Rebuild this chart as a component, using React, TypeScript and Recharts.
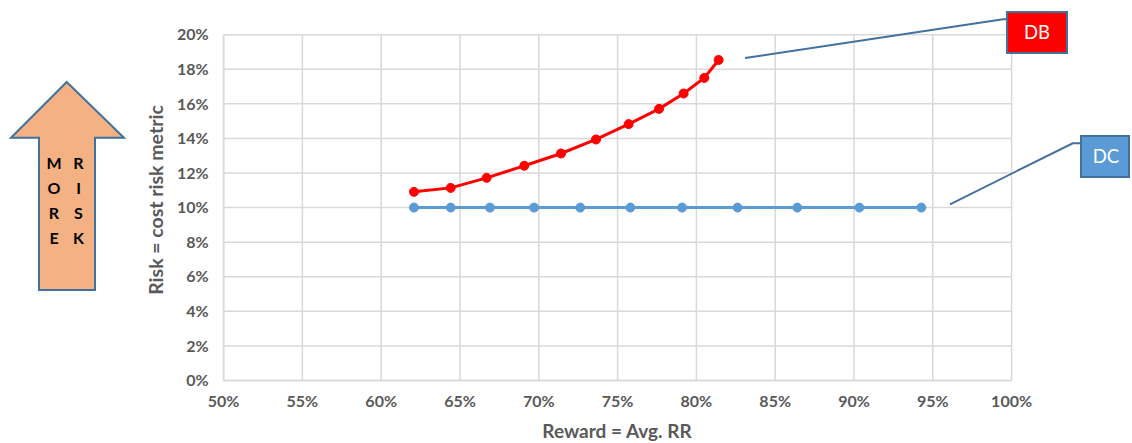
import React from "react";
import { LineChart, Line, XAxis, YAxis, CartesianGrid } from "recharts";

// Reward (avg. replacement ratio, %) and risk (cost risk metric, %) per plan design
const dbReward = [62.08, 64.41, 66.69, 69.08, 71.41, 73.63, 75.7, 77.63, 79.19, 80.5, 81.41];
const dbRisk = [10.91, 11.14, 11.72, 12.42, 13.13, 13.94, 14.83, 15.71, 16.6, 17.5, 18.54];

const dcReward = [62.08, 64.41, 66.9, 69.7, 72.63, 75.81, 79.09, 82.61, 86.4, 90.34, 94.27];
const dcRisk = [10, 10, 10, 10, 10, 10, 10, 10, 10, 10, 10];

const xTicks = [50, 55, 60, 65, 70, 75, 80, 85, 90, 95, 100];
const yTicks = [0, 2, 4, 6, 8, 10, 12, 14, 16, 18, 20];

const arrowLetters = [
  ["M", "R"],
  ["O", "I"],
  ["R", "S"],
  ["E", "K"],
];

const dbData = dbReward.map((x, i) => ({ x, y: dbRisk[i] }));
const dcData = dcReward.map((x, i) => ({ x, y: dcRisk[i] }));

const FONT = "Lato, 'Open Sans', sans-serif";
const TICK = { fill: "#595959", fontSize: 16, fontWeight: 700, fontFamily: FONT };
const GRID = "#d9d9d9";
const OUTLINE = "#41719c";

export default function App() {
  return (
    <div style={{ position: "fixed", left: 0, top: 0, width: 1132, height: 443, background: "#fff" }}>
      <LineChart
        width={1132}
        height={443}
        margin={{ top: 34.7, right: 120.4, bottom: 32.5, left: 163.6 }}
      >
        <CartesianGrid stroke={GRID} strokeWidth={1.5} />
        <XAxis
          type="number"
          dataKey="x"
          domain={[50, 100]}
          ticks={xTicks}
          tickFormatter={(v: number) => `${v}%`}
          tick={TICK}
          tickLine={false}
          tickSize={0}
          tickMargin={15}
          axisLine={{ stroke: GRID, strokeWidth: 1.5 }}
          height={30}
          allowDataOverflow
        />
        <YAxis
          type="number"
          dataKey="y"
          domain={[0, 20]}
          ticks={yTicks}
          tickFormatter={(v: number) => `${v}%`}
          tick={TICK}
          tickLine={false}
          tickSize={0}
          tickMargin={15}
          axisLine={{ stroke: GRID, strokeWidth: 1.5 }}
          width={60}
        />
        <Line
          data={dcData}
          dataKey="y"
          stroke="#5b9bd5"
          strokeWidth={3}
          dot={{ r: 4.5, fill: "#5b9bd5", stroke: "#5b9bd5", strokeWidth: 1 }}
          isAnimationActive={false}
        />
        <Line
          data={dbData}
          dataKey="y"
          stroke="#ff0000"
          strokeWidth={3}
          dot={{ r: 4.5, fill: "#ff0000", stroke: "#ff0000", strokeWidth: 1 }}
          isAnimationActive={false}
        />
      </LineChart>

      <svg
        width={1132}
        height={443}
        style={{ position: "absolute", left: 0, top: 0, pointerEvents: "none" }}
      >
        {/* axis titles */}
        <text
          x={617}
          y={438}
          textAnchor="middle"
          fill="#595959"
          fontSize={19}
          fontWeight={700}
          fontFamily={FONT}
        >
          Reward = Avg. RR
        </text>
        <text
          transform="translate(163,200) rotate(-90)"
          textAnchor="middle"
          fill="#595959"
          fontSize={19.5}
          fontWeight={700}
          fontFamily={FONT}
        >
          Risk = cost risk metric
        </text>

        {/* "more risk" arrow */}
        <polygon
          points="66.7,82 124,137.7 95,137.7 95,290 39,290 39,137.7 11,137.7"
          fill="#f4b183"
          stroke={OUTLINE}
          strokeWidth={2}
        />
        {arrowLetters.map((pair, i) => (
          <g key={i} fontFamily={FONT} fontWeight={700} fontSize={16} fill="#000">
            <text x={54} y={168.5 + i * 25} textAnchor="middle">
              {pair[0]}
            </text>
            <text x={78.5} y={168.5 + i * 25} textAnchor="middle">
              {pair[1]}
            </text>
          </g>
        ))}

        {/* DB callout */}
        <polyline points="745,58 1003,19.3 1007,19.3" fill="none" stroke={OUTLINE} strokeWidth={2} />
        <rect x={1007} y={12} width={60} height={41} fill="#ff0000" stroke={OUTLINE} strokeWidth={2} />
        <text x={1037} y={39} textAnchor="middle" fill="#fff" fontSize={18.5} fontFamily={FONT}>
          DB
        </text>

        {/* DC callout */}
        <polyline points="950,204.3 1072.7,143.3 1081,143.3" fill="none" stroke={OUTLINE} strokeWidth={2} />
        <rect x={1081} y={136} width={48} height={41} fill="#5b9bd5" stroke={OUTLINE} strokeWidth={2} />
        <text x={1106} y={163} textAnchor="middle" fill="#fff" fontSize={18.5} fontFamily={FONT}>
          DC
        </text>
      </svg>
    </div>
  );
}
